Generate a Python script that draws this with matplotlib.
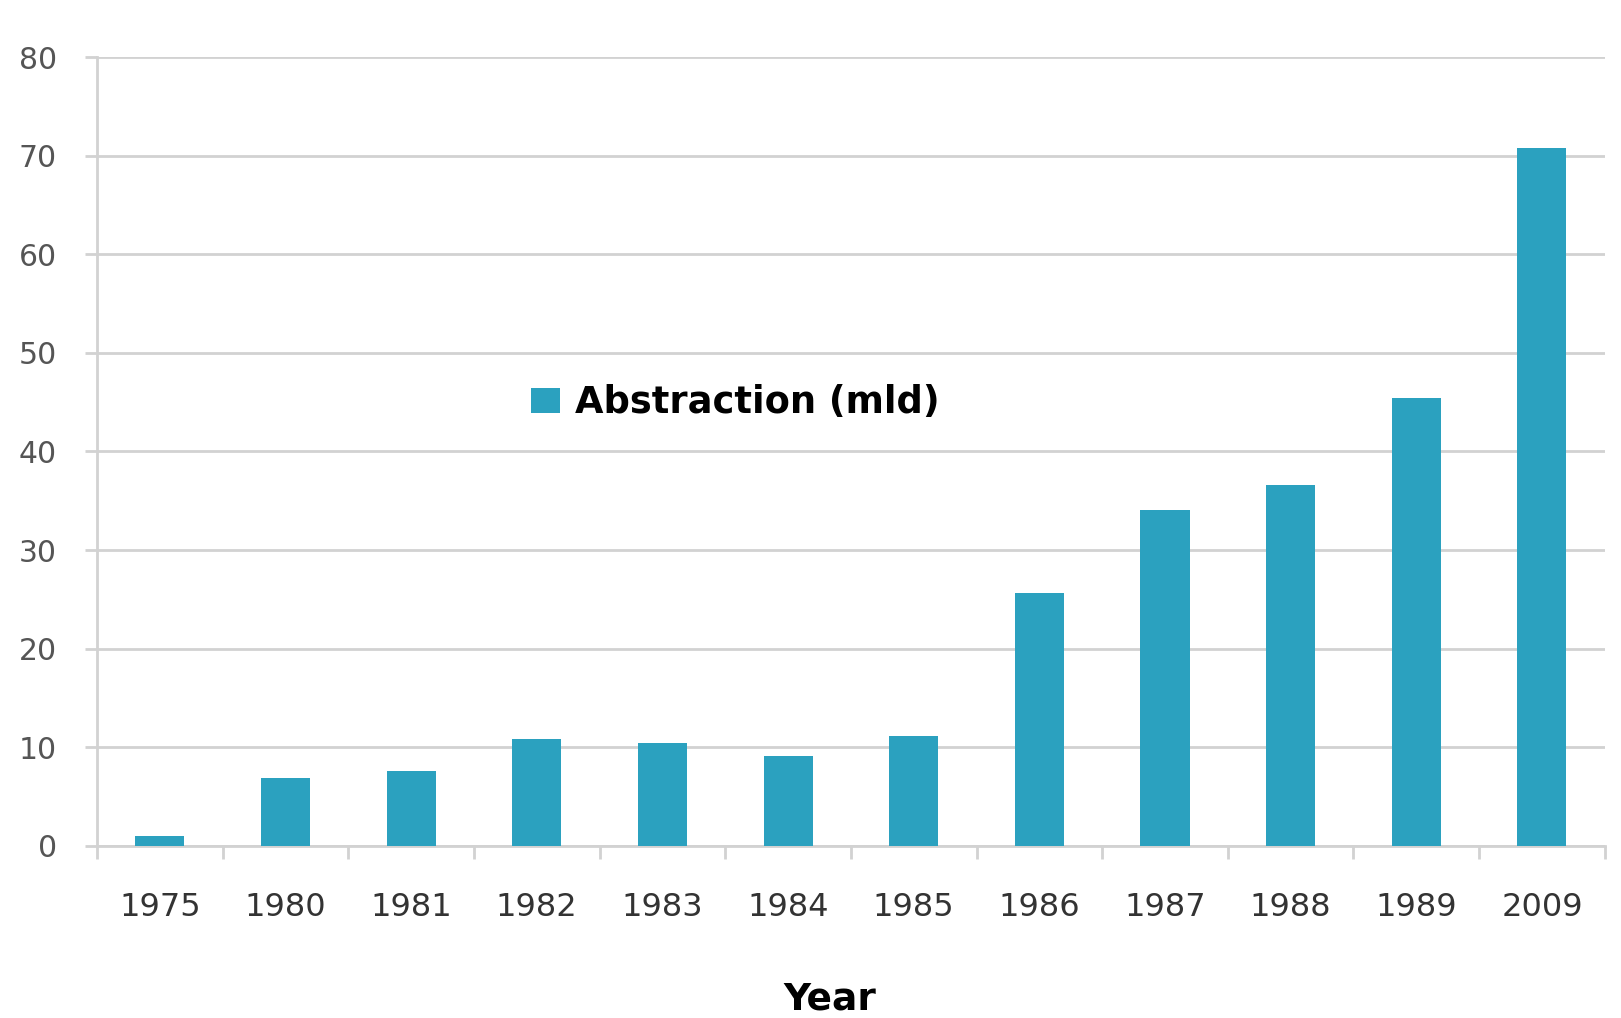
import matplotlib
matplotlib.use("Agg")
import matplotlib.pyplot as plt
import numpy as np

# Water abstraction by year (mld)
years = ["1975", "1980", "1981", "1982", "1983", "1984",
         "1985", "1986", "1987", "1988", "1989", "2009"]
abstraction = [1.0, 6.9, 7.6, 10.8, 10.4, 9.1,
               11.2, 25.6, 34.1, 36.6, 45.4, 70.8]

bar_color = "#2ba1bf"
grid_color = "#d2d2d2"
tick_color = "#555555"

fig = plt.figure(figsize=(16.21, 10.18), dpi=100)
ax = fig.add_axes([0.0598, 0.169, 0.9302, 0.775])

x = np.arange(len(years))
ax.bar(x, abstraction, width=0.39, color=bar_color, zorder=3,
       label="Abstraction (mld)")

ax.set_xlim(-0.5, len(years) - 0.5)
ax.set_ylim(0, 80)
ax.set_yticks(np.arange(0, 81, 10))
ax.yaxis.grid(True, color=grid_color, linewidth=2, zorder=0)

# category labels at centres, tick marks between categories
ax.set_xticks(x)
ax.set_xticklabels(years)
ax.set_xticks(np.arange(-0.5, len(years), 1), minor=True)
ax.tick_params(axis="x", which="major", length=0, pad=33,
               labelsize=23, labelcolor="#333333")
ax.tick_params(axis="x", which="minor", length=9, width=2,
               color=grid_color, direction="out")
ax.tick_params(axis="y", length=9, width=2, color=grid_color,
               pad=20, labelsize=21.5, labelcolor=tick_color)

for side in ["top", "right"]:
    ax.spines[side].set_visible(False)
for side in ["left", "bottom"]:
    ax.spines[side].set_color(grid_color)
    ax.spines[side].set_linewidth(2)

ax.set_xlabel("Year", fontsize=27, fontweight="bold")
ax.xaxis.set_label_coords(0.486, -0.172)

leg = ax.legend(loc="center left", bbox_to_anchor=(0.288, 0.562),
                frameon=False, fontsize=26.5, handlelength=0.79,
                handleheight=0.68, handletextpad=0.4, borderpad=0,
                borderaxespad=0)
for t in leg.get_texts():
    t.set_fontweight("bold")

fig.savefig("out.png", dpi=100)
